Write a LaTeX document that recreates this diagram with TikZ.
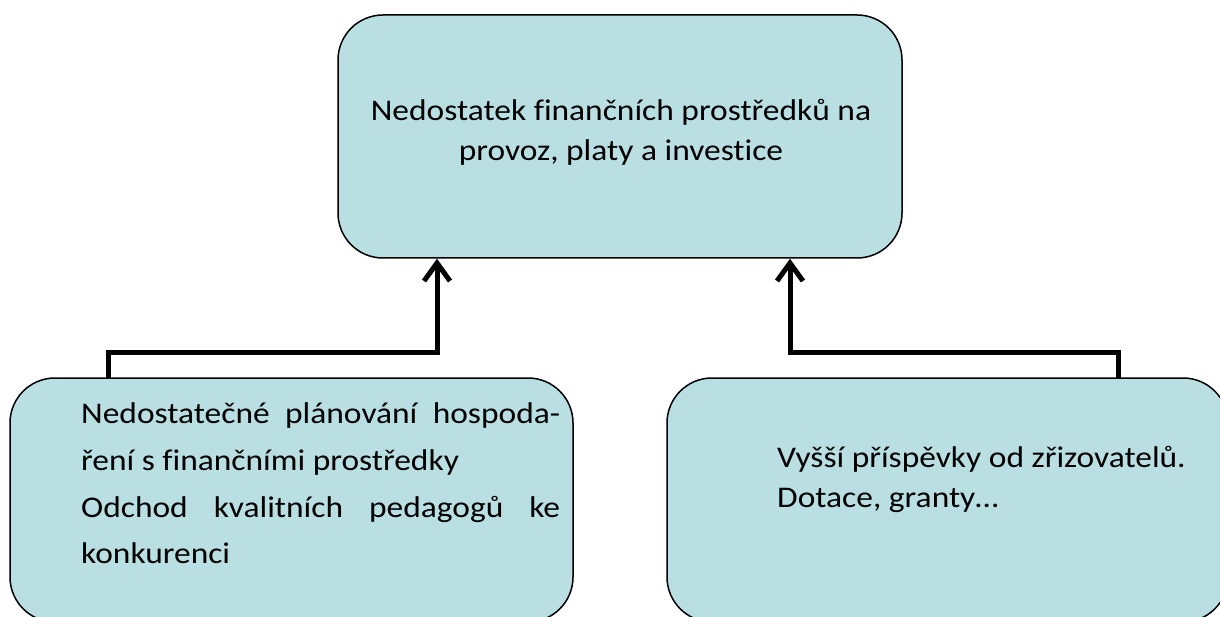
\documentclass[tikz,border=0pt]{standalone}
\usepackage{fontspec}
\setmainfont{Carlito}[FakeStretch=1.115,Ligatures=NoCommon]
\usetikzlibrary{arrows.meta}
\definecolor{boxfill}{RGB}{185,223,227}
\begin{document}
\begin{tikzpicture}[x=1pt,y=-1pt,
  box/.style={draw=black,line width=1.5pt,fill=boxfill,rounded corners=45pt,inner sep=0pt},
  txt/.style={font=\fontsize{30}{40}\selectfont,inner sep=0pt},
  ln/.style={txt,anchor=base west},
  conn/.style={line width=5pt,-{Straight Barb[length=18pt,width=26pt,line width=5pt]}}]
\useasboundingbox (0,0) rectangle (1220,617);
\fill[white] (0,0) rectangle (1220,617);
\node[box,minimum width=564pt,minimum height=243pt] (top) at (620,136.5) {};
\node[box,minimum width=563pt,minimum height=244pt] (bl) at (291.5,500) {};
\node[box,minimum width=561pt,minimum height=244pt] (br) at (947.5,500) {};
\node[txt,anchor=base] (top1) at (621,121) {Nedostatek finančních prostředků na};
\node[txt,anchor=base] (top2) at (621,161) {provoz, platy a investice};
\node[ln] (bl1) at (81,423) {\makebox[479pt][s]{Nedostatečné plánování hospoda-}};
\node[ln] (bl2) at (81,470) {ření s finančními prostředky};
\node[ln] (bl3) at (81,517) {\makebox[479pt][s]{Odchod kvalitních pedagogů ke}};
\node[ln] (bl4) at (81,563) {konkurenci};
\node[ln] (br1) at (777,467) {Vyšší příspěvky od zřizovatelů.};
\node[ln] (br2) at (777,507) {Dotace, granty…};
\coordinate (ls) at (108,378);
\coordinate (lm) at (437,352);
\coordinate (rs) at (1118,378);
\coordinate (rm) at (790,352);
\draw[conn] (ls) |- (lm) -- (top.south -| lm);
\draw[conn] (rs) |- (rm) -- (top.south -| rm);
\end{tikzpicture}
\end{document}
